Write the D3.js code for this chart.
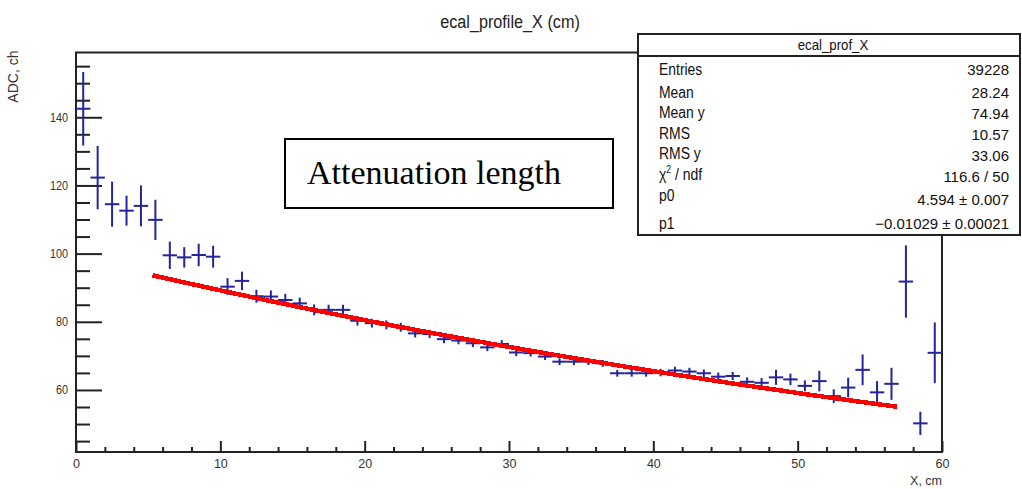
<!DOCTYPE html>
<html>
<head>
<meta charset="utf-8">
<script src="https://cdn.jsdelivr.net/npm/d3@7"></script>
<style>
  html, body { margin: 0; padding: 0; background: #fff; }
  svg { display: block; }
</style>
</head>
<body>
<svg id="chart" width="1022" height="489"></svg>
<script>
// Profile histogram: mean ADC per 1 cm bin along X, with errors
const xRange = [0, 60];
const binWidth = 1;
const adcMean = [
  142.5, 122.3, 114.5, 112.6, 114.0, 109.9, 99.5, 98.9, 99.6, 99.1,
  90.3, 92.0, 87.5, 87.4, 86.4, 85.4, 83.5, 83.5, 83.5, 80.3,
  79.6, 79.1, 78.4, 76.6, 76.4, 74.9, 74.5, 73.7, 72.5, 73.5,
  71.0, 70.8, 69.8, 68.3, 68.3, 68.3, 67.8, 64.9, 64.9, 64.9,
  65.1, 65.7, 65.4, 64.9, 63.9, 64.1, 62.4, 62.1, 63.7, 63.1,
  61.2, 62.6, 58.2, 60.7, 65.9, 59.3, 61.8, 91.8, 50.2, 70.9
];
const adcErr = [
  10.8, 9.3, 6.6, 4.4, 6.0, 5.9, 4.0, 3.0, 3.3, 3.2,
  2.5, 2.7, 1.9, 1.8, 1.8, 1.7, 1.6, 1.5, 1.5, 1.4,
  1.3, 1.3, 1.3, 1.2, 1.2, 1.2, 1.1, 1.1, 1.1, 1.1,
  1.1, 1.0, 1.0, 1.0, 1.0, 1.0, 1.0, 1.0, 1.0, 1.0,
  1.1, 1.1, 1.1, 1.1, 1.2, 1.2, 1.3, 1.4, 2.2, 1.7,
  1.6, 3.0, 2.0, 2.9, 4.5, 3.3, 4.7, 10.6, 3.4, 8.9
];

// Exponential fit  f(x) = exp(p0 + p1*x)
const fitP0 = 4.594;
const fitP1 = -0.01029;
const fitRange = [5.3, 56.9];

// Axis ticks
const xMajorTicks = [0, 10, 20, 30, 40, 50, 60];
const xMinorTicks = [2, 4, 6, 8, 12, 14, 16, 18, 22, 24, 26, 28, 32, 34, 36, 38, 42, 44, 46, 48, 52, 54, 56, 58];
const yMajorTicks = [60, 80, 100, 120, 140];
const yMinorTicks = [45, 50, 55, 65, 70, 75, 85, 90, 95, 105, 110, 115, 125, 130, 135, 145, 150, 155];

// Statistics box
const statTitle = "ecal_prof_X";
const statLabels = ["Entries", "Mean", "Mean y", "RMS", "RMS y", "χ2 / ndf", "p0", "p1"];
const statValues = ["39228", "28.24", "74.94", "10.57", "33.06", "116.6 / 50", "4.594 ± 0.007", "\u22120.01029 ± 0.00021"];

const chartTitle = "ecal_profile_X (cm)";
const xTitle = "X, cm";
const yTitle = "ADC, ch";
const noteText = "Attenuation length";

const SANS = "'Liberation Sans', Arial, sans-serif";
const SERIF = "'Liberation Serif', 'Times New Roman', serif";

const svg = d3.select("#chart");
const W = 1022, H = 489;
svg.append("rect").attr("width", W).attr("height", H).attr("fill", "#fff");

const frame = { left: 76, right: 942, top: 52.5, bottom: 452 };
const x = d3.scaleLinear().domain(xRange).range([frame.left, frame.right]);
const y = d3.scaleLinear().domain([41.8, 159.0]).range([frame.bottom, frame.top]);

const axisColor = "#222";

// Squeeze a text horizontally to a fraction of its natural width
function condense(sel, f) {
  sel.each(function () {
    const len = this.getComputedTextLength();
    d3.select(this).attr("textLength", len * f).attr("lengthAdjust", "spacingAndGlyphs");
  });
}

// Title
svg.append("text")
  .attr("x", 510).attr("y", 28)
  .attr("text-anchor", "middle")
  .style("font-family", SANS)
  .attr("font-size", 18).attr("fill", "#222")
  .text(chartTitle)
  .call(condense, 0.9);

// Frame
svg.append("rect")
  .attr("x", frame.left).attr("y", frame.top)
  .attr("width", frame.right - frame.left).attr("height", frame.bottom - frame.top)
  .attr("fill", "none").attr("stroke", axisColor).attr("stroke-width", 2);

// X axis: major + minor ticks pointing into the frame
const gx = svg.append("g").attr("transform", `translate(0,${frame.bottom})`);
gx.call(d3.axisBottom(x).tickValues(xMajorTicks).tickSize(-11).tickPadding(7).tickFormat(d3.format("d")));
const gxm = svg.append("g").attr("transform", `translate(0,${frame.bottom})`);
gxm.call(d3.axisBottom(x).tickValues(xMinorTicks).tickSize(-5).tickFormat(""));

// Y axis
const gy = svg.append("g").attr("transform", `translate(${frame.left},0)`);
gy.call(d3.axisLeft(y).tickValues(yMajorTicks).tickSize(-26).tickPadding(8).tickFormat(d3.format("d")));
const gym = svg.append("g").attr("transform", `translate(${frame.left},0)`);
gym.call(d3.axisLeft(y).tickValues(yMinorTicks).tickSize(-14).tickFormat(""));

svg.selectAll(".domain").remove();
svg.selectAll(".tick line").attr("stroke", axisColor).attr("stroke-width", 2);
gx.selectAll(".tick text").attr("font-size", 12.5).attr("fill", "#333").style("font-family", SANS);
gy.selectAll(".tick text").attr("font-size", 12).attr("fill", "#333").style("font-family", SANS)
  .call(condense, 0.9);

// Axis titles
svg.append("text")
  .attr("x", frame.right).attr("y", 485)
  .attr("text-anchor", "end")
  .style("font-family", SANS)
  .attr("font-size", 12.5).attr("fill", "#333")
  .text(xTitle);
svg.append("text")
  .attr("transform", `translate(18,${frame.top - 2}) rotate(-90)`)
  .attr("text-anchor", "end")
  .style("font-family", SANS)
  .attr("font-size", 14).attr("fill", "#333")
  .text(yTitle);

// Data points with error bars
const points = adcMean.map((v, i) => ({
  lo: xRange[0] + i * binWidth,
  hi: xRange[0] + (i + 1) * binWidth,
  xc: xRange[0] + (i + 0.5) * binWidth,
  v, e: adcErr[i]
}));
const blue = "#24249c";
const gp = svg.append("g").attr("stroke", blue).attr("stroke-width", 2).attr("fill", "none");
gp.selectAll("line.h").data(points).join("line")
  .attr("class", "h")
  .attr("x1", d => x(d.lo)).attr("x2", d => x(d.hi))
  .attr("y1", d => y(d.v)).attr("y2", d => y(d.v));
gp.selectAll("line.v").data(points).join("line")
  .attr("class", "v")
  .attr("x1", d => x(d.xc)).attr("x2", d => x(d.xc))
  .attr("y1", d => y(d.v - d.e)).attr("y2", d => y(d.v + d.e));

// Fit curve (aliased polyline, as drawn by the fitting tool)
const fitX = d3.range(fitRange[0], fitRange[1] + 1e-9, (fitRange[1] - fitRange[0]) / 100);
const fitLine = d3.line()
  .x(d => x(d))
  .y(d => y(Math.exp(fitP0 + fitP1 * d)));
svg.append("path")
  .datum(fitX)
  .attr("d", fitLine)
  .attr("fill", "none")
  .attr("stroke", "#ff0000")
  .attr("stroke-width", 4.5)
  .attr("stroke-linecap", "butt")
  .attr("shape-rendering", "crispEdges");

// Annotation box
svg.append("rect")
  .attr("x", 285).attr("y", 139).attr("width", 328).attr("height", 69)
  .attr("fill", "#fff").attr("stroke", "#000").attr("stroke-width", 2);
svg.append("text")
  .attr("x", 307).attr("y", 184)
  .style("font-family", SERIF)
  .attr("font-size", 34).attr("fill", "#000")
  .text(noteText);

// Statistics box
const sb = { x: 638, y: 34, w: 382, h: 201, head: 22 };
const gs = svg.append("g");
gs.append("rect")
  .attr("x", sb.x).attr("y", sb.y).attr("width", sb.w).attr("height", sb.h)
  .attr("fill", "#fff").attr("stroke", "#222").attr("stroke-width", 2);
gs.append("line")
  .attr("x1", sb.x).attr("x2", sb.x + sb.w)
  .attr("y1", sb.y + sb.head).attr("y2", sb.y + sb.head)
  .attr("stroke", "#222").attr("stroke-width", 2);
gs.append("text")
  .attr("x", 833).attr("y", 50)
  .attr("text-anchor", "middle")
  .style("font-family", SANS)
  .attr("font-size", 15).attr("fill", "#111")
  .text(statTitle)
  .call(condense, 0.88);

const labelBase = [75, 97.5, 117.5, 138.5, 158.5, 180, 201, 229];
const valueBase = [75, 97.5, 118.5, 139.5, 160.5, 181.5, 205, 229];
statLabels.forEach((lab, i) => {
  const t = gs.append("text")
    .attr("x", 659).attr("y", labelBase[i])
    .style("font-family", SANS)
    .attr("font-size", 16).attr("fill", "#111");
  if (lab.startsWith("χ2")) {
    t.append("tspan").text("χ");
    t.append("tspan").attr("font-size", 10).attr("dy", -7).text("2");
    t.append("tspan").attr("dy", 7).text(lab.slice(2));
  } else {
    t.text(lab);
  }
  t.call(condense, 0.87);
});
statValues.forEach((val, i) => {
  gs.append("text")
    .attr("x", 1009).attr("y", valueBase[i])
    .attr("text-anchor", "end")
    .style("font-family", SANS)
    .attr("font-size", 15).attr("fill", "#111")
    .text(val);
});
</script>
</body>
</html>
